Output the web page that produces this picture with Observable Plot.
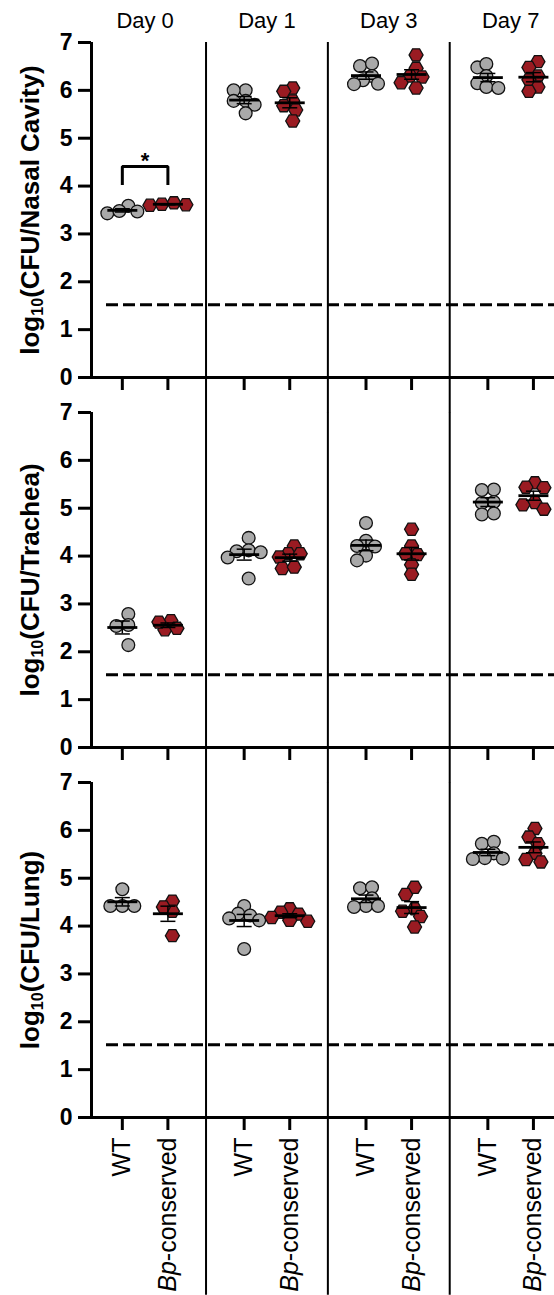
<!DOCTYPE html>
<html><head><meta charset="utf-8">
<script src="https://cdn.jsdelivr.net/npm/d3@7"></script>
<script src="https://cdn.jsdelivr.net/npm/@observablehq/plot@0.6"></script>
<style>body{margin:0;background:#fff} svg{display:block}</style>
</head><body><div id="chart"></div>
<script>
const days = ["Day 0", "Day 1", "Day 3", "Day 7"];
const groups = ["WT", "Bp-conserved"];
const tissues = ["Nasal Cavity", "Trachea", "Lung"];
const yTitles = ["log10(CFU/Nasal Cavity)", "log10(CFU/Trachea)", "log10(CFU/Lung)"];
const yTicks = [0, 1, 2, 3, 4, 5, 6, 7];
const limitOfDetection = 1.52;

// values indexed [day][animal]
const nasalWT = [[3.43,3.59,3.48,3.47],[6.00,6.00,5.78,5.78,5.70,5.52],[6.51,6.56,6.30,6.21,6.14,6.13],[6.48,6.55,6.30,6.15,6.07,6.05]];
const nasalBp = [[3.60,3.65,3.61,3.62],[6.05,5.98,5.78,5.68,5.59,5.36],[6.74,6.46,6.30,6.28,6.16,6.05],[6.60,6.48,6.30,6.22,6.07,5.98]];
const tracheaWT = [[2.79,2.54,2.56,2.14],[4.38,4.12,4.10,4.08,3.97,3.53],[4.69,4.32,4.21,4.20,4.01,3.91],[5.39,5.38,5.13,5.11,4.87,4.89]];
const tracheaBp = [[2.46,2.65,2.49,2.62],[4.21,4.05,4.05,3.98,3.74,3.77],[4.56,4.21,4.05,4.03,3.82,3.62],[5.53,5.43,5.44,5.12,5.07,4.98]];
const lungWT = [[4.77,4.42,4.42,4.42],[4.42,4.26,4.22,4.16,4.12,3.52],[4.79,4.81,4.58,4.42,4.42,4.40],[5.72,5.76,5.52,5.42,5.40,5.41]];
const lungBp = [[4.52,4.31,4.40,3.80],[4.36,4.29,4.25,4.18,4.12,4.10],[4.81,4.66,4.36,4.31,4.20,3.98],[6.04,5.86,5.72,5.52,5.34,5.39]];

const significance = [{tissue: "Nasal Cavity", day: "Day 0", legLow: 4.02, barY: 4.41, label: "*"}];

// ---- layout ----
const W = 554, H = 1295, mL = 91, mT = 41.7, mB = 177.7;
const xDomain = [-0.44, 3.36];
const groupOffset = 0.187;
const facetGap = 35.3, bandH = 335;
const pxPerX = (W - mL) / (xDomain[1] - xDomain[0]);
const pxPerY = bandH / 7;

const series = [[nasalWT, nasalBp], [tracheaWT, tracheaBp], [lungWT, lungBp]];

function swarmOffsets(vals) {
  const step = 3, minDist = 9.5;
  const order = d3.range(vals.length).sort((a, b) => d3.descending(vals[a], vals[b]));
  const placed = [], off = [];
  for (const i of order) {
    const py = vals[i] * pxPerY;
    for (let k = 0; ; k++) {
      const c = k === 0 ? 0 : (k % 2 ? -1 : 1) * Math.ceil(k / 2) * step;
      if (placed.every(p => Math.hypot(p[0] - c, p[1] - py) >= minDist)) { off[i] = c; placed.push([c, py]); break; }
    }
  }
  const mid = (d3.min(off) + d3.max(off)) / 2;
  return off.map(o => o - mid);
}

const gx = (di, gi) => di + (gi ? 1 : -1) * groupOffset;
const points = [], stats = [];
tissues.forEach((t, ti) => days.forEach((day, di) => groups.forEach((g, gi) => {
  const vals = series[ti][gi][di];
  const cx = gx(di, gi);
  const offs = swarmOffsets(vals);
  vals.forEach((v, i) => points.push({tissue: t, day, group: g, value: v, x: cx + offs[i] / pxPerX}));
  const m = d3.mean(vals), s = d3.deviation(vals) / Math.sqrt(vals.length);
  stats.push({tissue: t, day, group: g, x: cx, mean: m, lo: m - s, hi: m + s});
})));
const caps = stats.flatMap(d => [{...d, y: d.lo}, {...d, y: d.hi}]);
const tickPos = days.flatMap((d, di) => groups.map((g, gi) => gx(di, gi)));
const seps = tissues.flatMap(t => d3.range(1, days.length).map(i => ({tissue: t, x: i - 0.5})));
const bracket = significance.flatMap(s => {
  const di = days.indexOf(s.day);
  return [
    {tissue: s.tissue, x: gx(di, 0), y: s.legLow},
    {tissue: s.tissue, x: gx(di, 0), y: s.barY},
    {tissue: s.tissue, x: gx(di, 1), y: s.barY},
    {tissue: s.tissue, x: gx(di, 1), y: s.legLow}
  ];
});

const hline = {draw(ctx, size) { const h = Math.sqrt(size / Math.PI); ctx.moveTo(-h, 0); ctx.lineTo(h, 0); }};
const hexFlat = {draw(ctx, size) {
  const R = Math.sqrt(size / Math.PI) * 1.08;
  for (let k = 0; k < 6; k++) {
    const a = k * Math.PI / 3, px = R * Math.cos(a), py = R * Math.sin(a);
    k ? ctx.lineTo(px, py) : ctx.moveTo(px, py);
  }
  ctx.closePath();
}};

const font = "'Liberation Sans', Arial, Helvetica, sans-serif";

const chart = Plot.plot({
  width: W, height: H,
  marginLeft: mL, marginRight: 0, marginTop: mT, marginBottom: mB,
  style: {fontFamily: font, color: "black", background: "white", overflow: "visible"},
  x: {domain: xDomain, label: null},
  y: {domain: [0, 7], label: null},
  fy: {domain: tissues, paddingInner: facetGap / (bandH + facetGap), paddingOuter: 0, axis: null, label: null},
  marks: [
    Plot.ruleX(seps, {x: "x", fy: "tissue", y1: 7,
      y2: d => d.tissue === tissues[tissues.length - 1] ? -mB / pxPerY : -facetGap / pxPerY,
      stroke: "black", strokeWidth: 2}),
    Plot.ruleY(tissues, {fy: d => d, y: () => limitOfDetection, x1: () => xDomain[0] + 15 / pxPerX, x2: () => xDomain[1],
      stroke: "black", strokeWidth: 3, strokeDasharray: "12,5"}),
    Plot.ruleY(tissues, {fy: d => d, y: () => 0, stroke: "black", strokeWidth: 3}),
    Plot.ruleX(tissues, {fy: d => d, x: () => xDomain[0], y1: 0, y2: 7, stroke: "black", strokeWidth: 3}),
    Plot.axisY(yTicks, {label: null, tickSize: 13, tickPadding: 6, strokeWidth: 3, fontSize: 23, fontWeight: "bold", tickFormat: d => String(d)}),
    Plot.axisX(tickPos, {label: null, facetAnchor: null, tickSize: 13, strokeWidth: 3, tickFormat: () => ""}),
    Plot.axisX(tickPos, {label: null, tickSize: 0, tickPadding: 20, tickRotate: -90, fontSize: 25,
      tickFormat: d => (d - Math.round(d)) < 0 ? groups[0] : groups[1]}),
    Plot.dot(points.filter(d => d.group === groups[0]), {x: "x", y: "value", fy: "tissue", r: 6.4,
      fill: "#a9a9a9", stroke: "#111", strokeWidth: 1.3}),
    Plot.dot(points.filter(d => d.group === groups[1]), {x: "x", y: "value", fy: "tissue", r: 6.5, symbol: hexFlat,
      fill: "#9a1b22", stroke: "#111", strokeWidth: 1.3}),
    Plot.ruleX(stats, {x: "x", y1: "lo", y2: "hi", fy: "tissue", stroke: "black", strokeWidth: 1.5}),
    Plot.dot(caps, {x: "x", y: "y", fy: "tissue", symbol: hline, r: 7.5, stroke: "black", strokeWidth: 1.5}),
    Plot.dot(stats, {x: "x", y: "mean", fy: "tissue", symbol: hline, r: 15, stroke: "black", strokeWidth: 2.8}),
    Plot.line(bracket, {x: "x", y: "y", fy: "tissue", stroke: "black", strokeWidth: 3, strokeLinejoin: "miter", strokeLinecap: "butt"}),
    Plot.text(significance, {x: d => days.indexOf(d.day), y: "barY", fy: "tissue", text: "label", lineAnchor: "bottom",
      dy: 2, fontSize: 22, fontWeight: "bold"}),
    Plot.text(days, {x: (d, i) => i, fy: () => tissues[0], text: d => d, frameAnchor: "top", lineAnchor: "bottom", dy: -15, fontSize: 22}),
    Plot.text(tissues, {fy: d => d, text: (d, i) => yTitles[i], frameAnchor: "left", dx: -61, rotate: -90,
      textAnchor: "middle", fontSize: 26, fontWeight: "bold", lineAnchor: "middle"})
  ]
});

// rich text: subscript and italic
const NS = "http://www.w3.org/2000/svg";
chart.querySelectorAll("text").forEach(t => {
  const s = t.textContent;
  if (s.startsWith("log10(")) {
    while (t.firstChild) t.removeChild(t.firstChild);
    const a = document.createElementNS(NS, "tspan"); a.textContent = "log";
    const b = document.createElementNS(NS, "tspan"); b.textContent = "10"; b.setAttribute("font-size", "0.62em"); b.setAttribute("dy", "0.28em");
    const c = document.createElementNS(NS, "tspan"); c.textContent = s.slice(5); c.setAttribute("dy", "-0.17em");
    t.append(a, b, c);
  } else if (s === "Bp-conserved") {
    while (t.firstChild) t.removeChild(t.firstChild);
    const a = document.createElementNS(NS, "tspan"); a.textContent = "Bp"; a.setAttribute("font-style", "italic");
    const b = document.createElementNS(NS, "tspan"); b.textContent = "-conserved";
    t.append(a, b);
  }
});
document.getElementById("chart").append(chart);
</script>
</body></html>
